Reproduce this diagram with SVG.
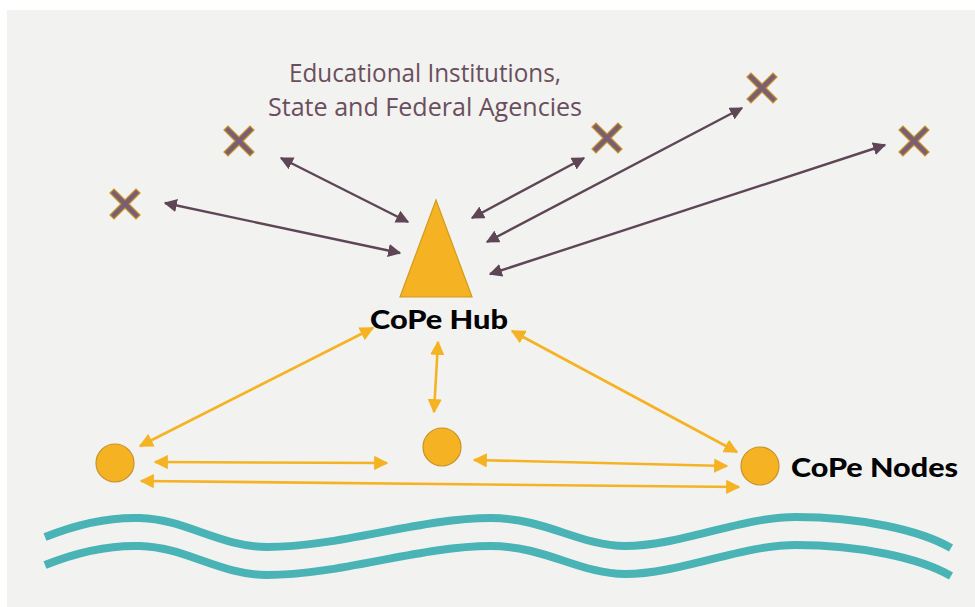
<svg xmlns="http://www.w3.org/2000/svg" width="975" height="607" viewBox="0 0 975 607">
  <defs>
    <marker id="ah-purple" viewBox="0 0 10 10" refX="9" refY="5" markerWidth="5.5" markerHeight="5.5" orient="auto-start-reverse" markerUnits="strokeWidth">
      <path d="M0,0 L10,5 L0,10 Z" fill="#5e4656"/>
    </marker>
    <marker id="ah-gold" viewBox="0 0 10 10" refX="9" refY="5" markerWidth="5.5" markerHeight="5.5" orient="auto-start-reverse" markerUnits="strokeWidth">
      <path d="M0,0 L10,5 L0,10 Z" fill="#f5b324"/>
    </marker>
    <path id="cross" d="M-15,-11 L-11,-15 L0,-4 L11,-15 L15,-11 L4,0 L15,11 L11,15 L0,4 L-11,15 L-15,11 L-4,0 Z"/>
  </defs>
  <style>
    .purple { stroke: #5e4656; stroke-width: 2.4; fill: none; marker-start: url(#ah-purple); marker-end: url(#ah-purple); }
    .gold { stroke: #f5b324; stroke-width: 2.6; fill: none; marker-start: url(#ah-gold); marker-end: url(#ah-gold); }
    .x { fill: #7a5f72; stroke: #c8922a; stroke-width: 1.2; }
    .node { fill: #f5b324; stroke: #c8922a; stroke-width: 1.2; }
    .wave { fill: none; stroke: #4ab3b5; stroke-width: 8; stroke-linejoin: round; }
    .label { font-family: "Open Sans", "Liberation Sans", sans-serif; font-size: 25px; fill: #6b4e5e; text-anchor: middle; }
    .bold { font-family: "Lato", "Liberation Sans", sans-serif; font-weight: 900; font-size: 27px; fill: #000; }
  </style>

  <rect x="0" y="0" width="975" height="607" fill="#ffffff"/>
  <rect x="7" y="10" width="968" height="597" fill="#f2f2f0"/>

  <!-- title -->
  <g id="title">
    <text class="label" x="425" y="82" textLength="272" lengthAdjust="spacingAndGlyphs">Educational Institutions,</text>
    <text class="label" x="425" y="116" textLength="314" lengthAdjust="spacingAndGlyphs">State and Federal Agencies</text>
  </g>

  <!-- partner organisations -->
  <g id="partner-1"><use href="#cross" class="x" x="125" y="204"/></g>
  <g id="partner-2"><use href="#cross" class="x" x="239" y="141"/></g>
  <g id="partner-3"><use href="#cross" class="x" x="607" y="138"/></g>
  <g id="partner-4"><use href="#cross" class="x" x="762" y="88"/></g>
  <g id="partner-5"><use href="#cross" class="x" x="914" y="141"/></g>

  <!-- hub -->
  <g id="hub">
    <polygon points="436,200 472,297 400,297" fill="#f5b324" stroke="#d49a1a" stroke-width="1.2"/>
    <text class="bold" x="439" y="329" text-anchor="middle" textLength="138" lengthAdjust="spacingAndGlyphs">CoPe Hub</text>
  </g>

  <!-- nodes -->
  <g id="node-left"><circle class="node" cx="115" cy="463" r="19"/></g>
  <g id="node-middle"><circle class="node" cx="442" cy="447" r="19"/></g>
  <g id="node-right">
    <circle class="node" cx="760" cy="466" r="19"/>
    <text class="bold" x="791" y="477" textLength="167" lengthAdjust="spacingAndGlyphs">CoPe Nodes</text>
  </g>

  <!-- connectors -->
  <g id="connectors">
    <line class="purple" x1="165" y1="203" x2="400" y2="253"/>
    <line class="purple" x1="281" y1="158" x2="408" y2="222"/>
    <line class="purple" x1="472" y1="218" x2="584" y2="158"/>
    <line class="purple" x1="487" y1="242" x2="742" y2="108"/>
    <line class="purple" x1="490" y1="274" x2="885" y2="145"/>

    <line class="gold" x1="140" y1="446" x2="373" y2="328"/>
    <line class="gold" x1="438" y1="342" x2="434" y2="412"/>
    <line class="gold" x1="512" y1="331" x2="737" y2="452"/>
    <line class="gold" x1="155" y1="462" x2="387" y2="463"/>
    <line class="gold" x1="474" y1="460" x2="727" y2="466"/>
    <line class="gold" x1="141" y1="481" x2="739" y2="487"/>
  </g>

  <!-- water -->
  <g id="water">
    <path class="wave" d="M45,537 C80,523 110,517 140,518 C185,519 220,547 267,547 C340,547 420,518 491,518 C545,518 580,546 625,546 C680,546 740,517 796,517 C860,517 920,530 951,548"/>
    <path class="wave" d="M45,565 C80,551 110,545 140,546 C185,547 220,575 267,575 C340,575 420,546 491,546 C545,546 580,574 625,574 C680,574 740,545 796,545 C860,545 920,558 951,576"/>
  </g>
</svg>
